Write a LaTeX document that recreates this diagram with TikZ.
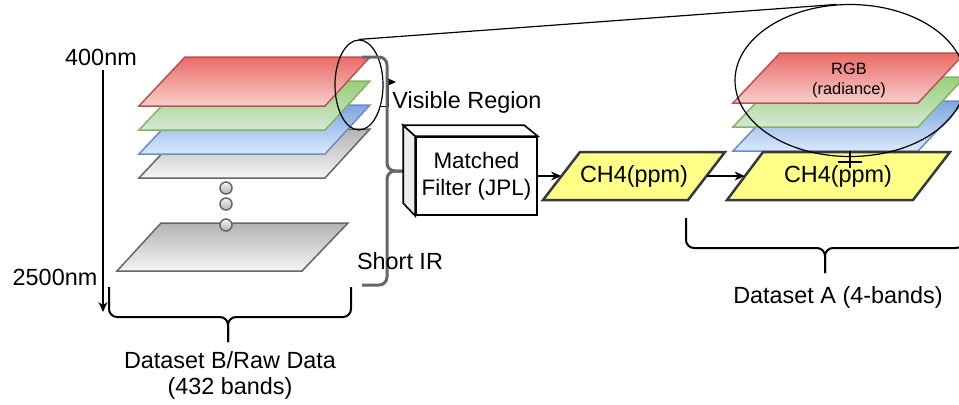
\documentclass[tikz,border=0pt]{standalone}
\usepackage{fontspec}
\setmainfont{Liberation Sans}
\usetikzlibrary{arrows.meta,shapes.geometric}

\definecolor{redT}{HTML}{EA6B66}
\definecolor{redB}{HTML}{F8CECC}
\definecolor{redD}{HTML}{B85450}
\definecolor{grnT}{HTML}{97D077}
\definecolor{grnB}{HTML}{D5E8D4}
\definecolor{grnD}{HTML}{82B366}
\definecolor{bluT}{HTML}{7EA6E0}
\definecolor{bluB}{HTML}{DAE8FC}
\definecolor{bluD}{HTML}{6C8EBF}
\definecolor{gryT}{HTML}{B3B3B3}
\definecolor{gryB}{HTML}{F5F5F5}
\definecolor{gryD}{HTML}{666666}
\definecolor{ch4F}{HTML}{FFFF88}
\definecolor{ch4D}{HTML}{36393D}

\begin{document}
\begin{tikzpicture}[x=0.5pt, y=-0.5pt,
    lbl/.style={font=\fontsize{11.7}{13}\selectfont, inner sep=0pt, align=center},
    lyr/.style={line width=0.75pt, draw=#1D, top color=#1T, bottom color=#1B},
    dot/.style={circle, inner sep=0pt, minimum size=6pt, draw=gryD, line width=0.75pt, top color=gryB, bottom color=gryT},
    ch4/.style={draw=ch4D, fill=ch4F, line width=1.25pt},
    brace/.style={line width=1pt, rounded corners=4pt},
    irbrace/.style={draw=gryD, line width=1.5pt, rounded corners=4pt},
    arr/.style={line width=0.6pt, -{Stealth[length=5pt, width=4.5pt]}}]
    \useasboundingbox (0,0) rectangle (959,404);
    \clip (0,0) rectangle (959,404);

    % raw data stack
    \draw[lyr=gry] (161,223) -- ++(187,0) -- ++(-46,48) -- ++(-185,0) -- cycle;
    \node[dot] (dot1) at (226,188) {};
    \node[dot] (dot2) at (226,204) {};
    \node[dot] (dot3) at (226,225) {};
    \draw[lyr=gry] (185,129) -- ++(185,0) -- ++(-45,49) -- ++(-186,0) -- cycle;
    \draw[lyr=blu] (185,105) -- ++(185,0) -- ++(-45,49) -- ++(-186,0) -- cycle;
    \draw[lyr=grn] (185,81) -- ++(185,0) -- ++(-45,49) -- ++(-186,0) -- cycle;
    \draw[lyr=red] (185,57) -- ++(185,0) -- ++(-45,49) -- ++(-186,0) -- cycle;

    \coordinate (wlA) at (103,70);
    \coordinate (wlB) at (103,312);
    \draw[arr] (wlA) -- (wlB);
    \node[lbl] (nm400) at (101,57) {400nm};
    \node[lbl] (nm2500) at (55,277) {2500nm};

    \draw[brace] (109,287) |- (228,317) -- (228,342);
    \draw[brace] (351,287) |- (228,317) -- (228,342);
    \node[lbl] (dsB) at (230,375) {Dataset B/Raw Data\\(432 bands)};

    % visible / short IR split
    \node[ellipse, draw, minimum width=24pt, minimum height=45pt, line width=0.6pt] (visE) at (359,85) {};
    \draw[arr] (visE.-45) -| (388,82) -- (396,82);
    \coordinate (irTop) at (362,57);
    \coordinate (irBot) at (362,285);
    \coordinate (irTip) at (404,171);
    \draw[irbrace] (irTop) -- (387,57) -- (387,171) -- (irTip);
    \draw[irbrace] (irTip) -- (387,171) -- (387,285) -- (irBot);
    \node[lbl, anchor=west] (vis) at (392,102) {Visible Region};
    \node[lbl] (sir) at (400,261) {Short IR};

    % matched filter
    \node[lbl, font=\fontsize{11.2}{13.5}\selectfont, draw, fill=white, line width=0.8pt, minimum width=60.5pt, minimum height=39pt] (mf) at (476.5,176) {Matched\\Filter (JPL)};
    \draw[fill=gray!15, line width=0.8pt] (mf.north west) -- ++(-12,-11) -- ++(0,78) -- (mf.south west) -- cycle;
    \draw[fill=white, line width=0.8pt] (mf.north west) -- ++(-12,-11) -- ++(121,0) -- (mf.north east) -- cycle;

    \draw[ch4] (543,200) -- (688,200) -- (725,152) -- (580,152) -- cycle;
    \node[lbl, minimum width=72.5pt, minimum height=24pt] (ch4a) at (634,176) {CH4(ppm)};

    % dataset A
    \draw[lyr=blu] (780,101) -- ++(185,0) -- ++(-47,50) -- ++(-185,0) -- cycle;
    \draw[lyr=grn] (780,77) -- ++(185,0) -- ++(-47,50) -- ++(-185,0) -- cycle;
    \draw[lyr=red] (780,53) -- ++(185,0) -- ++(-47,50) -- ++(-185,0) -- cycle;
    \node[font=\fontsize{8.2}{10}\selectfont, align=center, inner sep=0pt] (rgb) at (849,80) {RGB\\(radiance)};

    \draw[ch4] (727,200) -- (913,200) -- (950,152) -- (763,152) -- cycle;
    \node[lbl, minimum width=93pt, minimum height=24pt] (ch4b) at (838,176) {CH4(ppm)};

    \node[ellipse, draw, minimum width=115pt, minimum height=76pt, line width=0.6pt] (rgbE) at (850,80.5) {};
    \draw[line width=0.6pt] (visE.north) -- (rgbE.100);

    \coordinate (erA) at (850,151);
    \coordinate (erB) at (850,168);
    \draw[line width=0.6pt] (erA) -- (erB) (838,162) -- (862,162);

    \draw[arr] (mf.east) -- (ch4a.west);
    \draw[arr] (ch4a.east) -- (ch4b.west);

    \draw[brace] (686,218) |- (825,248) -- (825,273);
    \draw[brace] (964,218) |- (825,248) -- (825,273);
    \node[lbl] (dsA) at (838,297) {Dataset A (4-bands)};
\end{tikzpicture}
\end{document}
